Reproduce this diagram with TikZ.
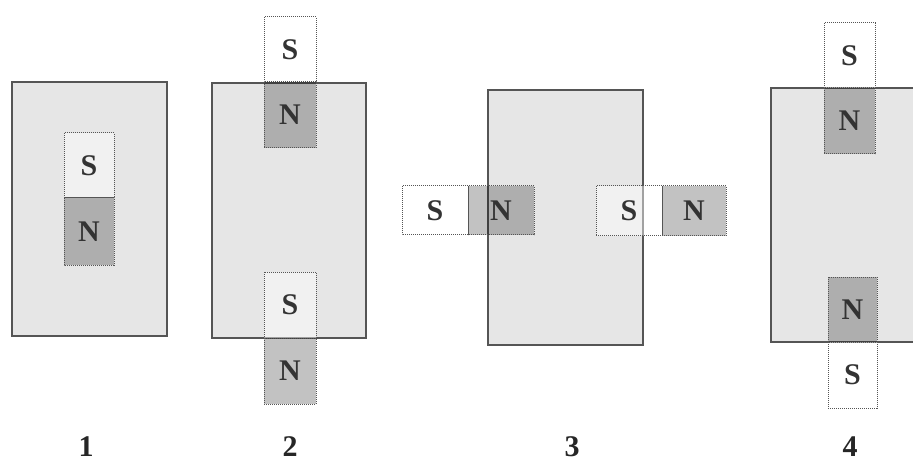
\documentclass[tikz,border=0pt]{standalone}
\usepackage{fontspec}
\setmainfont{Liberation Serif}
\definecolor{platefill}{HTML}{E6E6E6}
\definecolor{plateline}{HTML}{555555}
\definecolor{magline}{HTML}{555555}
\begin{document}
\begin{tikzpicture}[x=1pt,y=-1pt,
  plate/.style={fill=platefill,draw=plateline,line width=1.3pt},
  spole/.style={fill=white,fill opacity=0.45,draw=magline,dash pattern=on 1pt off 1pt,line width=1pt},
  npole/.style={fill=black,fill opacity=0.24,draw=magline,dash pattern=on 1pt off 1pt,line width=1pt},
  split/.style={draw=plateline,line width=1pt},
  pole/.style={font=\bfseries\fontsize{30}{30}\selectfont,text=black!80,inner sep=0pt},
  num/.style={font=\bfseries\fontsize{30}{30}\selectfont,text=black!85,inner sep=0pt}]
\useasboundingbox (0,0) rectangle (913,465);
\fill[white] (0,0) rectangle (913,465);
\begin{scope}
\clip (0,0) rectangle (913,465);
% plates
\path[plate] (12,82) rectangle (167,336);
\path[plate] (212,83) rectangle (366,338);
\path[plate] (488,90) rectangle (643,345);
\path[plate] (771,88) rectangle (930,342);
% panel 1
\path[spole] (64,133) rectangle (114,198);
\path[npole] (64,198) rectangle (114,265);
\draw[split] (64,198) -- (114,198);
\node[pole] (s1) at (89,165.5) {S};
\node[pole] (n1) at (89,231.5) {N};
% panel 2
\path[spole] (264,17) rectangle (316,82);
\path[npole] (264,82) rectangle (316,148);
\node[pole] (s2a) at (290,49.5) {S};
\node[pole] (n2a) at (290,115) {N};
\path[spole] (264,272) rectangle (316,338);
\path[npole] (264,338) rectangle (316,404);
\node[pole] (s2b) at (290,305) {S};
\node[pole] (n2b) at (290,371) {N};
% panel 3
\path[spole] (402,186) rectangle (468,235);
\path[npole] (468,186) rectangle (534,235);
\draw[split] (468,186) -- (468,235);
\node[pole] (s3a) at (435,210.5) {S};
\node[pole] (n3a) at (501,210.5) {N};
\path[spole] (596,186) rectangle (662,236);
\path[npole] (662,186) rectangle (726,236);
\draw[split] (662,186) -- (662,236);
\node[pole] (s3b) at (629,211) {S};
\node[pole] (n3b) at (694,211) {N};
% panel 4
\path[spole] (824,23) rectangle (875,88);
\path[npole] (824,88) rectangle (875,154);
\node[pole] (s4a) at (849.5,55.5) {S};
\node[pole] (n4a) at (849.5,121) {N};
\path[npole] (828,277) rectangle (877,342);
\path[spole] (828,342) rectangle (877,408);
\node[pole] (n4b) at (852.5,309.5) {N};
\node[pole] (s4b) at (852.5,375) {S};
\end{scope}
% labels
\node[num] (l1) at (86,447) {1};
\node[num] (l2) at (290,447) {2};
\node[num] (l3) at (572,447) {3};
\node[num] (l4) at (850,447) {4};
\end{tikzpicture}
\end{document}
